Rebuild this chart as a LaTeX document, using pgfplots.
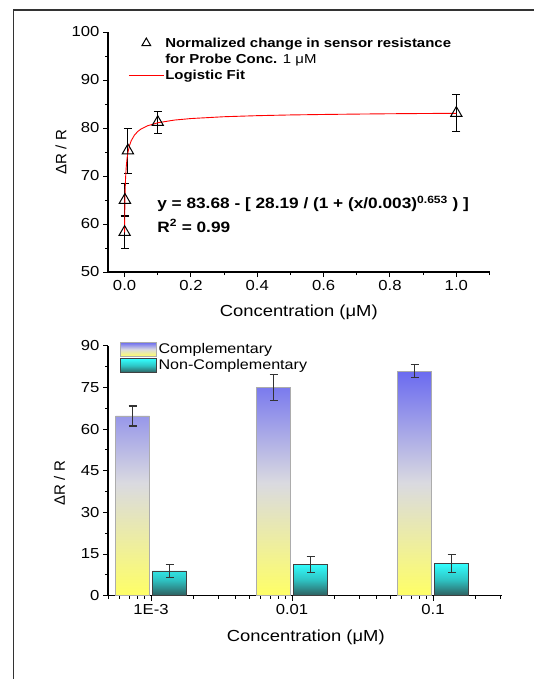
\documentclass[border=0pt]{standalone}
\usepackage{pgfplots}
\pgfplotsset{compat=1.18}
\usepackage{fontspec}
\setmainfont{Liberation Sans}[FakeStretch=1.15]
\newfontfamily\plainsans{Liberation Sans}

\definecolor{frame}{HTML}{333333}
\definecolor{cblue}{HTML}{6A6AF0}
\definecolor{cmid}{HTML}{DADAE0}
\definecolor{cyell}{HTML}{FFFF66}
\definecolor{ncyan}{HTML}{33FFFF}
\definecolor{nmid}{HTML}{2EC4C4}
\definecolor{ndark}{HTML}{2E5E5E}

\pgfplotsset{
  chart/.style={
    scale only axis,
    anchor=south west,
    axis lines=left,
    axis line style={-, line width=1.2pt, black},
    tick style={black, line width=1pt},
    tick align=outside,
    major tick length=5pt,
    minor tick length=3pt,
    ticklabel style={font=\fontsize{14.5}{17}\selectfont},
    /pgf/number format/assume math mode=true,
    label style={font=\fontsize{16}{19}\selectfont},
  },
}

\begin{document}
\begin{tikzpicture}
\useasboundingbox (0pt,0pt) rectangle (533pt,-679pt);
\fill[white] (0pt,0pt) rectangle (533pt,-679pt);
\draw[frame, line width=1.4pt] (13.5pt,-680pt) -- (13.5pt,-10pt) -- (534pt,-10pt);

% top: response vs probe concentration with logistic fit
\begin{axis}[chart,
  at={(108pt,-272pt)}, width=381.5pt, height=240pt,
  xmin=-0.05, xmax=1.1, ymin=50, ymax=100,
  xtick={0,0.2,0.4,0.6,0.8,1.0},
  minor xtick={0.1,0.3,0.5,0.7,0.9,1.1},
  ytick={50,60,70,80,90,100},
  minor ytick={55,65,75,85,95},
  xticklabel style={/pgf/number format/.cd, fixed, fixed zerofill, precision=1},
  xlabel={Concentration (μM)},
  ylabel={\plainsans\fontsize{15}{18}\selectfont ΔR / R},
  xlabel style={at={(axis description cs:0.5,-0.167)}, anchor=center},
  ylabel style={at={(axis description cs:-0.123,0.5)}, anchor=center},
  legend image code/.code={\draw[mark repeat=2,mark phase=2,#1] plot coordinates {(0pt,0pt) (17.5pt,0pt) (35pt,0pt)};},
  legend cell align=left,
  legend style={at={(axis description cs:0.045,0.99)}, anchor=north west,
    draw=none, fill=none, font=\bfseries\fontsize{13}{15}\selectfont,
    nodes={inner sep=1pt}, row sep=3.5pt},
]
\addplot[forget plot, only marks, mark=triangle, mark size=6.5pt,
  mark options={line width=1pt}, black,
  error bars/.cd, y dir=both, y explicit,
  error bar style={line width=1pt, black},
  error mark options={rotate=90, mark size=4pt, line width=1pt, black}]
  coordinates {
  (0.0001,58.3) +- (0,3.5)
  (0.001,65.0) +- (0,3.4)
  (0.01,75.3) +- (0,4.7)
  (0.1,81.2) +- (0,2.3)
  (1.0,83.1) +- (0,3.9)
};
\addplot[forget plot, red, line width=0.9pt] coordinates {
  (0.0001,58.25) (0.0003,60.62) (0.0006,62.79) (0.001,64.74) (0.002,67.73)
  (0.003,69.59) (0.005,71.91) (0.0075,73.68) (0.01,74.86) (0.015,76.38)
  (0.02,77.35) (0.03,78.55) (0.04,79.29) (0.05,79.81) (0.07,80.48)
  (0.1,81.09) (0.15,81.65) (0.2,81.97) (0.3,82.35) (0.4,82.57)
  (0.5,82.72) (0.6,82.82) (0.7,82.90) (0.8,82.97) (0.9,83.02) (1.0,83.06)
};
\addlegendimage{only marks, mark=triangle, mark size=5pt, black, mark options={line width=1pt}}
\addlegendentry{Normalized change in sensor resistance}
\addlegendimage{empty legend}
\addlegendentry{for Probe Conc. \textmd{1 μM}}
\addlegendimage{red, line width=0.9pt}
\addlegendentry{Logistic Fit}
\node[anchor=west, font=\bfseries\fontsize{15}{18}\selectfont] at (axis cs:0.088,64.2)
  {y = 83.68 - [ 28.19 / (1 + (x/0.003)\textsuperscript{0.653} ) ]};
\node[anchor=west, font=\bfseries\fontsize{15}{18}\selectfont] at (axis cs:0.088,59.6)
  {R\textsuperscript{2} = 0.99};
\end{axis}

% bottom: complementary vs non-complementary (x in log10 of concentration)
\begin{axis}[chart,
  at={(108pt,-595.7pt)}, width=394pt, height=250pt,
  xmin=-3.305, xmax=-0.511, ymin=0, ymax=90,
  xtick={-3,-2,-1}, xticklabels={1E-3,0.01,0.1},
  minor xtick={-3.301,-3.222,-3.155,-3.097,-3.046,
    -2.699,-2.523,-2.398,-2.301,-2.222,-2.155,-2.097,-2.046,
    -1.699,-1.523,-1.398,-1.301,-1.222,-1.155,-1.097,-1.046,
    -0.699,-0.523},
  ytick={0,15,30,45,60,75,90},
  minor ytick={7.5,22.5,37.5,52.5,67.5,82.5},
  xlabel={Concentration (μM)},
  ylabel={\plainsans\fontsize{15}{18}\selectfont ΔR / R},
  xlabel style={at={(axis description cs:0.502,-0.165)}, anchor=center},
  ylabel style={at={(axis description cs:-0.123,0.45)}, anchor=center},
  ybar, bar width=34pt,
  legend image code/.code={\draw[#1] (0pt,-7pt) rectangle (36pt,7pt);},
  legend cell align=left,
  legend style={at={(axis description cs:0.023,1.024)}, anchor=north west,
    draw=none, fill=none, font=\fontsize{14}{16}\selectfont,
    nodes={inner sep=1.5pt}, row sep=1.5pt,
    /tikz/every even column/.append style={column sep=4pt}},
]
\addplot[forget plot, bar shift=-18.5pt, draw=gray!65, line width=0.8pt,
  top color=cblue, bottom color=cyell, middle color=cmid,
  error bars/.cd, y dir=both, y explicit,
  error bar style={line width=1.1pt, black!80},
  error mark options={rotate=90, mark size=4pt, line width=1.1pt, black!80}]
  coordinates {(-3,64.7) +- (0,3.6) (-2,75.0) +- (0,4.7) (-1,80.8) +- (0,2.4)};
\addplot[forget plot, bar shift=18.5pt, draw=black!75, line width=0.8pt,
  top color=ncyan, bottom color=ndark, middle color=nmid,
  error bars/.cd, y dir=both, y explicit,
  error bar style={line width=1.1pt, black!80},
  error mark options={rotate=90, mark size=4pt, line width=1.1pt, black!80}]
  coordinates {(-3,8.9) +- (0,2.2) (-2,11.2) +- (0,3.0) (-1,11.6) +- (0,3.2)};
\addlegendimage{draw=gray!65, line width=0.8pt, top color=cblue, bottom color=cyell, middle color=cmid}
\addlegendentry{Complementary}
\addlegendimage{draw=black!75, line width=0.8pt, top color=ncyan, bottom color=ndark, middle color=nmid}
\addlegendentry{Non-Complementary}
\end{axis}
\end{tikzpicture}
\end{document}
